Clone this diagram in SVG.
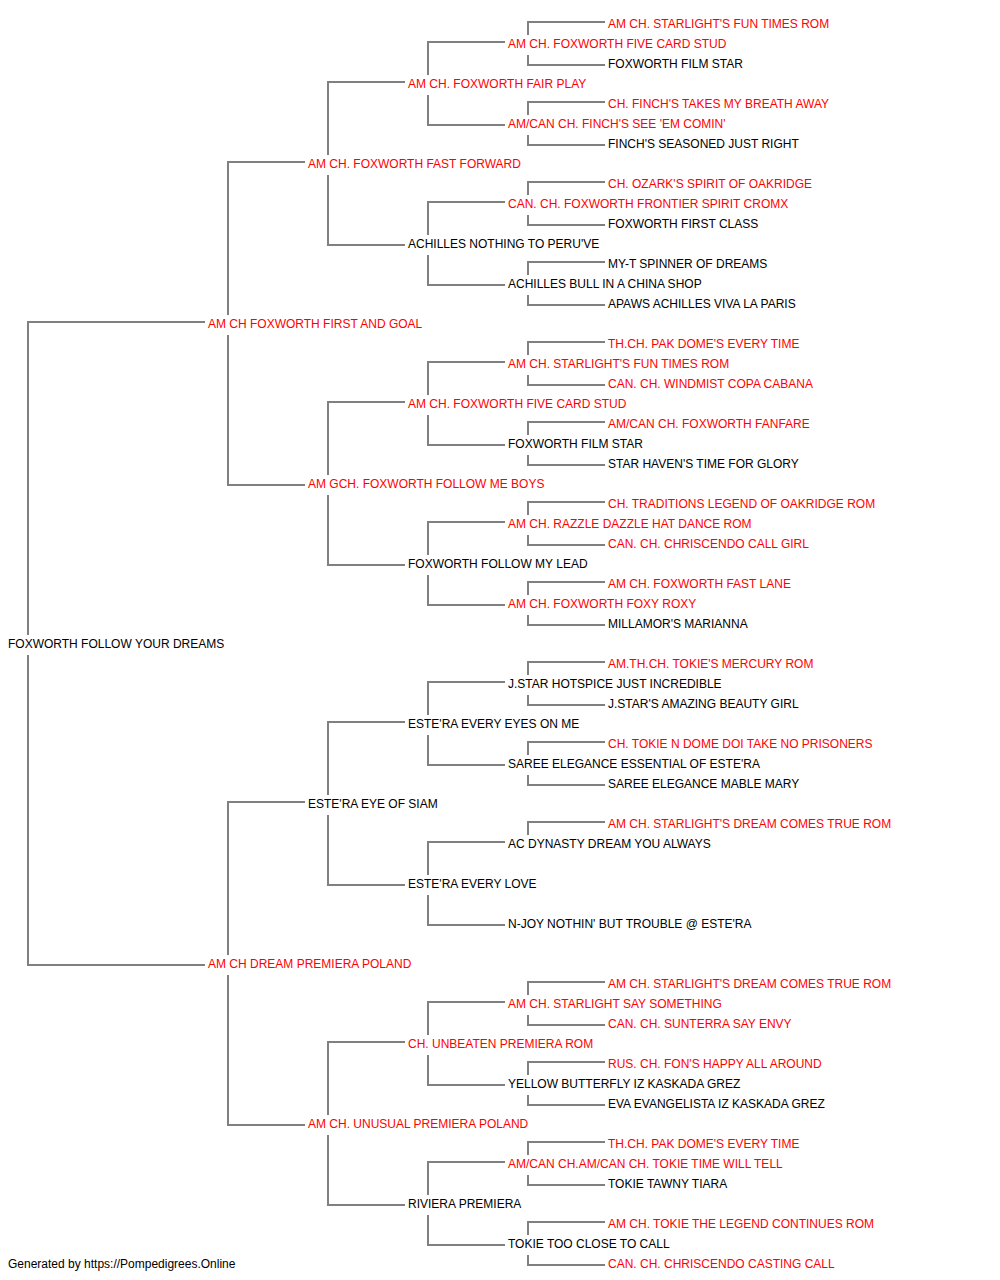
<svg xmlns="http://www.w3.org/2000/svg" width="1000" height="1280" viewBox="0 0 1000 1280">
<style>
text{font-family:"Liberation Sans",Arial,sans-serif;font-size:12px;fill:#000}
text.r{fill:#ff0000}
#connectors path{fill:none;stroke:#808080;stroke-width:2}
</style>
<rect width="1000" height="1280" fill="#fff"/>
<g id="connectors">
<path d="M28,635V322H205M28,655V965H205"/>
<path d="M228,315V162H305M228,335V485H305M228,955V802H305M228,975V1125H305"/>
<path d="M328,155V82H405M328,175V245H405M328,475V402H405M328,495V565H405M328,795V722H405M328,815V885H405M328,1115V1042H405M328,1135V1205H405"/>
<path d="M428,75V42H505M428,95V125H505M428,235V202H505M428,255V285H505M428,395V362H505M428,415V445H505M428,555V522H505M428,575V605H505M428,715V682H505M428,735V765H505M428,875V842H505M428,895V925H505M428,1035V1002H505M428,1055V1085H505M428,1195V1162H505M428,1215V1245H505"/>
<path d="M528,35V22H605M528,55V65H605M528,115V102H605M528,135V145H605M528,195V182H605M528,215V225H605M528,275V262H605M528,295V305H605M528,355V342H605M528,375V385H605M528,435V422H605M528,455V465H605M528,515V502H605M528,535V545H605M528,595V582H605M528,615V625H605M528,675V662H605M528,695V705H605M528,755V742H605M528,775V785H605M528,835V822H605M528,995V982H605M528,1015V1025H605M528,1075V1062H605M528,1095V1105H605M528,1155V1142H605M528,1175V1185H605M528,1235V1222H605M528,1255V1265H605"/>
</g>
<g id="n0"><text x="8" y="648">FOXWORTH FOLLOW YOUR DREAMS</text></g>
<g id="n1"><text class="r" x="208" y="328">AM CH FOXWORTH FIRST AND GOAL</text></g>
<g id="n2"><text class="r" x="208" y="968">AM CH DREAM PREMIERA POLAND</text></g>
<g id="n3"><text class="r" x="308" y="168">AM CH. FOXWORTH FAST FORWARD</text></g>
<g id="n4"><text class="r" x="308" y="488">AM GCH. FOXWORTH FOLLOW ME BOYS</text></g>
<g id="n5"><text x="308" y="808">ESTE'RA EYE OF SIAM</text></g>
<g id="n6"><text class="r" x="308" y="1128">AM CH. UNUSUAL PREMIERA POLAND</text></g>
<g id="n7"><text class="r" x="408" y="88">AM CH. FOXWORTH FAIR PLAY</text></g>
<g id="n8"><text x="408" y="248">ACHILLES NOTHING TO PERU'VE</text></g>
<g id="n9"><text class="r" x="408" y="408">AM CH. FOXWORTH FIVE CARD STUD</text></g>
<g id="n10"><text x="408" y="568">FOXWORTH FOLLOW MY LEAD</text></g>
<g id="n11"><text x="408" y="728">ESTE'RA EVERY EYES ON ME</text></g>
<g id="n12"><text x="408" y="888">ESTE'RA EVERY LOVE</text></g>
<g id="n13"><text class="r" x="408" y="1048">CH. UNBEATEN PREMIERA ROM</text></g>
<g id="n14"><text x="408" y="1208">RIVIERA PREMIERA</text></g>
<g id="n15"><text class="r" x="508" y="48">AM CH. FOXWORTH FIVE CARD STUD</text></g>
<g id="n16"><text class="r" x="508" y="128">AM/CAN CH. FINCH'S SEE 'EM COMIN'</text></g>
<g id="n17"><text class="r" x="508" y="208">CAN. CH. FOXWORTH FRONTIER SPIRIT CROMX</text></g>
<g id="n18"><text x="508" y="288">ACHILLES BULL IN A CHINA SHOP</text></g>
<g id="n19"><text class="r" x="508" y="368">AM CH. STARLIGHT'S FUN TIMES ROM</text></g>
<g id="n20"><text x="508" y="448">FOXWORTH FILM STAR</text></g>
<g id="n21"><text class="r" x="508" y="528">AM CH. RAZZLE DAZZLE HAT DANCE ROM</text></g>
<g id="n22"><text class="r" x="508" y="608">AM CH. FOXWORTH FOXY ROXY</text></g>
<g id="n23"><text x="508" y="688">J.STAR HOTSPICE JUST INCREDIBLE</text></g>
<g id="n24"><text x="508" y="768">SAREE ELEGANCE ESSENTIAL OF ESTE'RA</text></g>
<g id="n25"><text x="508" y="848">AC DYNASTY DREAM YOU ALWAYS</text></g>
<g id="n26"><text x="508" y="928">N-JOY NOTHIN' BUT TROUBLE @ ESTE'RA</text></g>
<g id="n27"><text class="r" x="508" y="1008">AM CH. STARLIGHT SAY SOMETHING</text></g>
<g id="n28"><text x="508" y="1088">YELLOW BUTTERFLY IZ KASKADA GREZ</text></g>
<g id="n29"><text class="r" x="508" y="1168">AM/CAN CH.AM/CAN CH. TOKIE TIME WILL TELL</text></g>
<g id="n30"><text x="508" y="1248">TOKIE TOO CLOSE TO CALL</text></g>
<g id="n31"><text class="r" x="608" y="28">AM CH. STARLIGHT'S FUN TIMES ROM</text></g>
<g id="n32"><text x="608" y="68">FOXWORTH FILM STAR</text></g>
<g id="n33"><text class="r" x="608" y="108">CH. FINCH'S TAKES MY BREATH AWAY</text></g>
<g id="n34"><text x="608" y="148">FINCH'S SEASONED JUST RIGHT</text></g>
<g id="n35"><text class="r" x="608" y="188">CH. OZARK'S SPIRIT OF OAKRIDGE</text></g>
<g id="n36"><text x="608" y="228">FOXWORTH FIRST CLASS</text></g>
<g id="n37"><text x="608" y="268">MY-T SPINNER OF DREAMS</text></g>
<g id="n38"><text x="608" y="308">APAWS ACHILLES VIVA LA PARIS</text></g>
<g id="n39"><text class="r" x="608" y="348">TH.CH. PAK DOME'S EVERY TIME</text></g>
<g id="n40"><text class="r" x="608" y="388">CAN. CH. WINDMIST COPA CABANA</text></g>
<g id="n41"><text class="r" x="608" y="428">AM/CAN CH. FOXWORTH FANFARE</text></g>
<g id="n42"><text x="608" y="468">STAR HAVEN'S TIME FOR GLORY</text></g>
<g id="n43"><text class="r" x="608" y="508">CH. TRADITIONS LEGEND OF OAKRIDGE ROM</text></g>
<g id="n44"><text class="r" x="608" y="548">CAN. CH. CHRISCENDO CALL GIRL</text></g>
<g id="n45"><text class="r" x="608" y="588">AM CH. FOXWORTH FAST LANE</text></g>
<g id="n46"><text x="608" y="628">MILLAMOR'S MARIANNA</text></g>
<g id="n47"><text class="r" x="608" y="668">AM.TH.CH. TOKIE'S MERCURY ROM</text></g>
<g id="n48"><text x="608" y="708">J.STAR'S AMAZING BEAUTY GIRL</text></g>
<g id="n49"><text class="r" x="608" y="748">CH. TOKIE N DOME DOI TAKE NO PRISONERS</text></g>
<g id="n50"><text x="608" y="788">SAREE ELEGANCE MABLE MARY</text></g>
<g id="n51"><text class="r" x="608" y="828">AM CH. STARLIGHT'S DREAM COMES TRUE ROM</text></g>
<g id="n52"><text class="r" x="608" y="988">AM CH. STARLIGHT'S DREAM COMES TRUE ROM</text></g>
<g id="n53"><text class="r" x="608" y="1028">CAN. CH. SUNTERRA SAY ENVY</text></g>
<g id="n54"><text class="r" x="608" y="1068">RUS. CH. FON'S HAPPY ALL AROUND</text></g>
<g id="n55"><text x="608" y="1108">EVA EVANGELISTA IZ KASKADA GREZ</text></g>
<g id="n56"><text class="r" x="608" y="1148">TH.CH. PAK DOME'S EVERY TIME</text></g>
<g id="n57"><text x="608" y="1188">TOKIE TAWNY TIARA</text></g>
<g id="n58"><text class="r" x="608" y="1228">AM CH. TOKIE THE LEGEND CONTINUES ROM</text></g>
<g id="n59"><text class="r" x="608" y="1268">CAN. CH. CHRISCENDO CASTING CALL</text></g>
<g id="footer"><text x="8" y="1268">Generated by https://Pompedigrees.Online</text></g>
</svg>
